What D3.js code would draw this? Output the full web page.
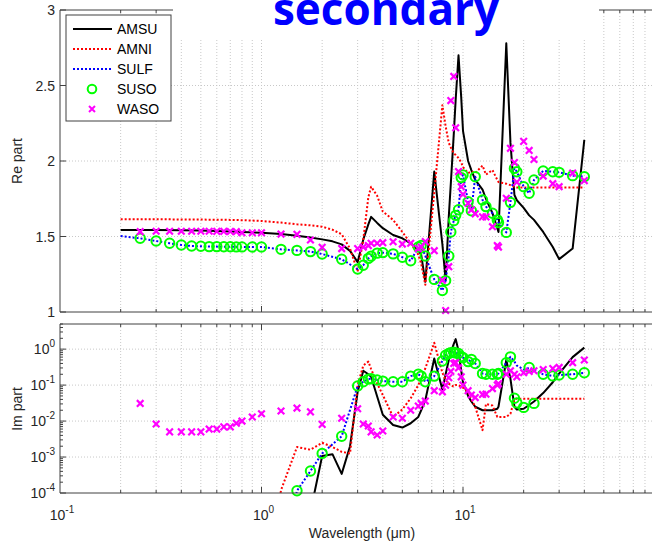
<!DOCTYPE html>
<html>
<head>
    <script src="https://cdnjs.cloudflare.com/ajax/libs/d3/7.8.5/d3.min.js"></script>
    <style>
        body, html {
            margin: 0;
            padding: 0;
            background: #fff;
            overflow: hidden;
        }
        svg {
            display: block;
            font-family: "Liberation Sans", Arial, sans-serif;
        }
        .grid line {
            stroke: #c8c8c8;
            stroke-width: 1;
            stroke-dasharray: 1,2;
        }
        .tick-label {
            font-size: 14px;
            fill: #262626;
        }
        .axis-title {
            font-size: 14px;
            fill: #262626;
        }
        .legend-text {
            font-size: 14px;
            fill: #000;
        }
    </style>
</head>
<body>
    <svg width="652" height="546"></svg>
    <script>
        // OPAC wavelength grid (um)
        const WL = [0.25, 0.3, 0.35, 0.4, 0.45, 0.5, 0.55, 0.6, 0.65, 0.7, 0.75, 0.8, 0.9, 1.0,
            1.25, 1.5, 1.75, 2.0, 2.5, 3.0, 3.2, 3.39, 3.5, 3.75, 4.0, 4.5, 5.0, 5.5, 6.0, 6.2, 6.5,
            7.2, 7.9, 8.2, 8.5, 8.7, 9.0, 9.2, 9.5, 9.8, 10.0, 10.6, 11.0, 11.5, 12.5, 13.0, 14.0,
            14.8, 15.0, 16.4, 17.2, 18.0, 18.5, 20.0, 21.3, 22.5, 25.0, 27.9, 30.0, 35.0, 40.0];
        const WL_SULF = [0.2].concat(WL);
        const WL_AM = [0.2, 0.3, 0.4, 0.5, 0.6, 0.7, 0.8, 1.0, 1.25, 1.5, 1.75, 2.0, 2.25, 2.5, 2.75,
            3.0, 3.2, 3.39, 3.5, 3.75, 4.0, 4.5, 5.0, 5.5, 6.0, 6.2, 6.5, 7.2, 7.9, 8.2, 8.5, 8.7,
            9.0, 9.2, 9.5, 9.8, 10.0, 10.6, 11.0, 11.5, 12.5, 13.0, 14.0, 14.8, 15.0, 16.4, 17.2,
            18.0, 18.5, 20.0, 21.3, 22.5, 25.0, 27.9, 30.0, 35.0, 40.0];

        // real parts
        const amsuRe = [1.543, 1.543, 1.541, 1.539, 1.536, 1.533, 1.530, 1.525, 1.516, 1.505, 1.494,
            1.481, 1.468, 1.448, 1.405, 1.33, 1.48, 1.58, 1.63, 1.59, 1.555, 1.51, 1.488, 1.455,
            1.41, 1.38, 1.20, 1.93, 1.45, 1.21, 1.63, 1.85, 2.18, 2.41, 2.70, 2.42, 2.2, 2.0, 1.94,
            1.875, 1.81, 1.75, 1.655, 1.555, 1.53, 2.78, 2.12, 1.775, 1.74, 1.69, 1.64, 1.61, 1.53,
            1.43, 1.35, 1.42, 2.14];
        const amniRe = [1.614, 1.614, 1.613, 1.612, 1.611, 1.61, 1.608, 1.603, 1.592, 1.581, 1.574,
            1.565, 1.545, 1.515, 1.42, 1.267, 1.48, 1.76, 1.83, 1.77, 1.665, 1.61, 1.53, 1.455,
            1.38, 1.32, 1.18, 1.79, 2.37, 2.23, 2.12, 2.09, 2.05, 2.04, 2.02, 1.99, 1.96, 1.92,
            1.93, 1.92, 1.97, 1.91, 1.94, 1.875, 1.86, 1.85, 1.84, 1.83, 1.825, 1.825, 1.825,
            1.825, 1.825, 1.825, 1.825, 1.825, 1.825];
        const susoRe = [1.488, 1.470, 1.455, 1.444, 1.437, 1.435, 1.433, 1.433, 1.432, 1.432, 1.431,
            1.431, 1.43, 1.43, 1.415, 1.408, 1.40, 1.384, 1.349, 1.285, 1.31, 1.355, 1.37, 1.39,
            1.393, 1.385, 1.363, 1.339, 1.43, 1.44, 1.371, 1.216, 1.142, 1.208, 1.371, 1.53, 1.605,
            1.64, 1.677, 1.89, 1.907, 1.73, 1.671, 1.896, 1.742, 1.698, 1.654, 1.61, 1.592, 1.527,
            1.726, 1.951, 1.929, 1.83, 1.786, 1.874, 1.934, 1.929, 1.925, 1.903, 1.896];
        const sulfRe = [1.503].concat(susoRe);
        const wasoRe = [1.532, 1.535, 1.535, 1.535, 1.535, 1.535, 1.535, 1.534, 1.534, 1.533, 1.532,
            1.525, 1.525, 1.525, 1.516, 1.514, 1.477, 1.428, 1.42, 1.42, 1.43, 1.44, 1.455, 1.455,
            1.459, 1.465, 1.45, 1.455, 1.42, 1.43, 1.466, 1.406, 1.21, 1.01, 1.30, 2.40, 2.56, 2.22,
            1.93, 1.83, 1.78, 1.72, 1.676, 1.65, 1.63, 1.63, 1.565, 1.44, 1.43, 1.753, 2.084, 1.99,
            1.86, 2.13, 2.07, 2.01, 1.90, 1.85, 1.83, 1.92, 1.87];

        // imaginary parts
        const amsuIm = [1e-8, 1e-8, 1e-8, 1e-8, 1e-8, 1e-8, 1e-8, 1e-8, 1e-7, 1e-6, 3e-5, 1.07e-3,
            1.2e-3, 3.4e-4, 2e-3, 0.065, 0.25, 0.2, 0.17, 0.048, 0.015, 7.8e-3, 6.6e-3, 8.7e-3,
            0.013, 0.02, 0.038, 0.55, 0.075, 0.2, 0.5, 0.8, 1.4, 1.9, 0.9, 0.25, 0.12, 0.05, 0.035,
            0.025, 0.02, 0.02, 0.02, 0.022, 0.025, 0.5, 0.15, 0.025, 0.021, 0.022, 0.028, 0.035,
            0.06, 0.12, 0.21, 0.6, 1.1];
        const amniIm = [1e-8, 1e-8, 1e-8, 1e-8, 1e-8, 1e-8, 1e-8, 1e-7, 1.2e-4, 1.9e-3, 1.6e-3,
            2.5e-3, 1.9e-3, 1.4e-3, 1.26e-3, 0.1, 0.35, 0.45, 0.28, 0.11, 0.053, 0.013, 0.021,
            0.043, 0.1, 0.15, 0.29, 1.5, 0.22, 0.14, 0.11, 0.1, 0.09, 0.1, 0.1, 0.09, 0.085, 0.065,
            0.04, 0.025, 5.6e-3, 0.03, 0.027, 0.013, 0.013, 0.013, 0.016, 0.04, 0.042, 0.042,
            0.042, 0.042, 0.042, 0.042, 0.042, 0.042, 0.042];
        const susoIm = [1e-8, 1e-8, 1e-8, 1e-8, 1e-8, 1e-8, 1e-8, 1e-8, 1e-8, 1e-8, 1e-8, 1e-8,
            1e-8, 1e-8, 1e-6, 1.15e-4, 4.1e-4, 1.26e-3, 3.8e-3, 0.094, 0.124, 0.147, 0.15, 0.138,
            0.129, 0.124, 0.124, 0.178, 0.2, 0.178, 0.124, 0.178, 0.47, 0.68, 0.76, 0.8, 0.82,
            0.78, 0.76, 0.62, 0.58, 0.45, 0.52, 0.4, 0.21, 0.2, 0.2, 0.2, 0.21, 0.42, 0.61, 0.043,
            0.032, 0.024, 0.31, 0.031, 0.2, 0.18, 0.19, 0.2, 0.22];
        const sulfIm = [1e-8].concat(susoIm.slice(0, 51), [0.45, 0.35, 0.27, 0.3, 0.26], susoIm.slice(56));
        const wasoIm = [0.031, 8.3e-3, 5e-3, 5e-3, 5e-3, 5e-3, 6e-3, 6e-3, 6.9e-3, 6.9e-3, 8.7e-3,
            0.01, 0.013, 0.016, 0.019, 0.023, 0.018, 8.1e-3, 0.012, 0.022, 8.3e-3, 7.3e-3, 5e-3,
            4.1e-3, 5.3e-3, 0.013, 0.012, 0.02, 0.026, 0.031, 0.036, 0.07, 0.065, 0.1, 0.16, 0.24,
            0.4, 0.42, 0.3, 0.17, 0.1, 0.07, 0.053, 0.045, 0.055, 0.056, 0.08, 0.1, 0.11, 0.2,
            0.25, 0.2, 0.17, 0.22, 0.24, 0.25, 0.27, 0.29, 0.31, 0.42, 0.5];

        const reTicks = [1, 1.5, 2, 2.5, 3];
        const imTicks = [1e-4, 1e-3, 1e-2, 1e-1, 1];
        const xTicks = [0.1, 1, 10];

        const svg = d3.select("svg");

        const x = d3.scaleLog().domain([0.1, 100]).range([60, 664.5]);
        const yRe = d3.scaleLinear().domain([1, 3]).range([312, 10]);
        const yIm = d3.scaleLog().domain([1e-4, 5]).range([493, 324]);

        const xMinor = [];
        [0.1, 1, 10].forEach(d => { for (let k = 2; k <= 9; k++) xMinor.push(d * k); });

        const series = [
            {name: "AMSU", wl: WL_AM, re: amsuRe, im: amsuIm, kind: "line", color: "#000", dash: null},
            {name: "AMNI", wl: WL_AM, re: amniRe, im: amniIm, kind: "line", color: "#ff0000", dash: "2,2"},
            {name: "SULF", wl: WL_SULF, re: sulfRe, im: sulfIm, kind: "line", color: "#0000ff", dash: "2,2"},
            {name: "SUSO", wl: WL, re: susoRe, im: susoIm, kind: "circle", color: "#00ff00"},
            {name: "WASO", wl: WL, re: wasoRe, im: wasoIm, kind: "cross", color: "#ff00ff"}
        ];

        function cross(cx, cy, r) {
            return `M${cx - r},${cy - r}L${cx + r},${cy + r}M${cx - r},${cy + r}L${cx + r},${cy - r}`;
        }

        function panel(id, y, top, bottom, hGrid, key) {
            const g = svg.append("g");

            svg.append("clipPath").attr("id", id)
                .append("rect")
                .attr("x", 60).attr("y", top)
                .attr("width", 605).attr("height", bottom - top);

            // grid
            const grid = g.append("g").attr("class", "grid");
            grid.selectAll(".v")
                .data(xMinor.concat([1, 10]))
                .join("line")
                .attr("x1", d => x(d)).attr("x2", d => x(d))
                .attr("y1", top).attr("y2", bottom);
            grid.selectAll(".h")
                .data(hGrid)
                .join("line")
                .attr("x1", 60).attr("x2", 665)
                .attr("y1", d => y(d)).attr("y2", d => y(d));

            // data lines
            const plot = g.append("g").attr("clip-path", `url(#${id})`);
            series.forEach(s => {
                const pts = s.wl.map((w, i) => [w, s[key][i]]);
                if (s.kind === "line") {
                    plot.append("path")
                        .datum(pts)
                        .attr("fill", "none")
                        .attr("stroke", s.color)
                        .attr("stroke-width", 2)
                        .attr("stroke-dasharray", s.dash)
                        .attr("stroke-linejoin", "round")
                        .attr("d", d3.line().x(d => x(d[0])).y(d => y(d[1])));
                }
            });
            // markers drawn where the centre lies inside the axes
            const inside = d => d[1] >= y.domain()[0] && d[1] <= y.domain()[1];
            series.forEach(s => {
                const pts = s.wl.map((w, i) => [w, s[key][i]]).filter(inside);
                if (s.kind === "circle") {
                    g.append("g").selectAll("circle")
                        .data(pts)
                        .join("circle")
                        .attr("cx", d => x(d[0])).attr("cy", d => y(d[1]))
                        .attr("r", 4.7)
                        .attr("fill", "none")
                        .attr("stroke", s.color)
                        .attr("stroke-width", 2);
                } else if (s.kind === "cross") {
                    g.append("g").selectAll("path")
                        .data(pts)
                        .join("path")
                        .attr("d", d => cross(x(d[0]), y(d[1]), 3.3))
                        .attr("stroke", s.color)
                        .attr("stroke-width", 2.2);
                }
            });

            // box and ticks
            const ax = g.append("g").attr("stroke", "#404040").attr("stroke-width", 1);
            ax.append("line").attr("x1", 60).attr("x2", 665).attr("y1", top).attr("y2", top);
            ax.append("line").attr("x1", 60).attr("x2", 665).attr("y1", bottom).attr("y2", bottom);
            ax.append("line").attr("x1", 60).attr("x2", 60).attr("y1", top).attr("y2", bottom);

            const allX = xMinor.map(d => [d, 3]).concat([[1, 6], [10, 6]]);
            ax.selectAll(".xt")
                .data(allX)
                .join("path")
                .attr("d", d => `M${x(d[0])},${bottom}v${-d[1]}M${x(d[0])},${top}v${d[1]}`);
            return {g, ax};
        }

        // upper panel: real part
        const up = panel("clipRe", yRe, 10, 312, [1.5, 2, 2.5], "re");
        up.ax.selectAll(".yt")
            .data(reTicks)
            .join("path")
            .attr("d", d => `M60,${yRe(d)}h6`);
        up.g.selectAll(".yl")
            .data(reTicks)
            .join("text")
            .attr("class", "tick-label")
            .attr("x", 55).attr("y", d => yRe(d) + 5)
            .attr("text-anchor", "end")
            .text(d => d);

        // lower panel: imaginary part
        const lo = panel("clipIm", yIm, 324, 493, [1e-3, 1e-2, 1e-1, 1], "im");
        const imMinor = [];
        [1e-4, 1e-3, 1e-2, 1e-1, 1].forEach(d => {
            for (let k = 2; k <= 9; k++) if (d * k <= 5) imMinor.push(d * k);
        });
        lo.ax.selectAll(".ym")
            .data(imMinor)
            .join("path")
            .attr("d", d => `M60,${yIm(d)}h3`);
        lo.ax.selectAll(".yt")
            .data(imTicks)
            .join("path")
            .attr("d", d => `M60,${yIm(d)}h6`);

        const imLab = lo.g.selectAll(".yl")
            .data(imTicks)
            .join("text")
            .attr("class", "tick-label")
            .attr("x", 55).attr("y", d => yIm(d) + 5)
            .attr("text-anchor", "end");
        imLab.append("tspan").text("10");
        imLab.append("tspan")
            .attr("dy", -7).attr("font-size", 10)
            .text(d => Math.round(Math.log10(d)));

        const xLab = lo.g.selectAll(".xl")
            .data(xTicks)
            .join("text")
            .attr("class", "tick-label")
            .attr("x", d => x(d) + 2).attr("y", 520)
            .attr("text-anchor", "middle");
        xLab.append("tspan").text("10");
        xLab.append("tspan")
            .attr("dy", -7).attr("font-size", 10)
            .text(d => Math.round(Math.log10(d)));

        // axis titles
        svg.append("text").attr("class", "axis-title")
            .attr("transform", "translate(22,161) rotate(-90)")
            .attr("text-anchor", "middle")
            .text("Re part");
        svg.append("text").attr("class", "axis-title")
            .attr("transform", "translate(22,409) rotate(-90)")
            .attr("text-anchor", "middle")
            .text("Im part");
        svg.append("text").attr("class", "axis-title")
            .attr("x", 362).attr("y", 538)
            .attr("text-anchor", "middle")
            .text("Wavelength (\u03bcm)");

        // legend
        const lg = svg.append("g");
        lg.append("rect")
            .attr("x", 66).attr("y", 15).attr("width", 105).attr("height", 106)
            .attr("fill", "#fff").attr("stroke", "#404040");
        series.forEach((s, i) => {
            const ly = 29 + i * 20;
            if (s.kind === "line") {
                lg.append("line")
                    .attr("x1", 73).attr("x2", 112).attr("y1", ly).attr("y2", ly)
                    .attr("stroke", s.color).attr("stroke-width", 2)
                    .attr("stroke-dasharray", s.dash);
            } else if (s.kind === "circle") {
                lg.append("circle").attr("cx", 92).attr("cy", ly).attr("r", 4.3)
                    .attr("fill", "none").attr("stroke", s.color).attr("stroke-width", 2);
            } else {
                lg.append("path")
                    .attr("d", cross(92, ly, 3))
                    .attr("stroke", s.color).attr("stroke-width", 2);
            }
            lg.append("text").attr("class", "legend-text")
                .attr("x", 117).attr("y", ly + 5)
                .text(s.name);
        });

        // slide title over the plot
        svg.append("rect")
            .attr("x", 173).attr("y", 0).attr("width", 426).attr("height", 40)
            .attr("fill", "#fff");
        svg.append("text")
            .attr("x", 386).attr("y", 25)
            .attr("text-anchor", "middle")
            .attr("font-family", "Open Sans")
            .attr("font-weight", "bold")
            .attr("font-size", 44)
            .attr("fill", "#0000ff")
            .text("secondary");
    </script>
</body>
</html>
